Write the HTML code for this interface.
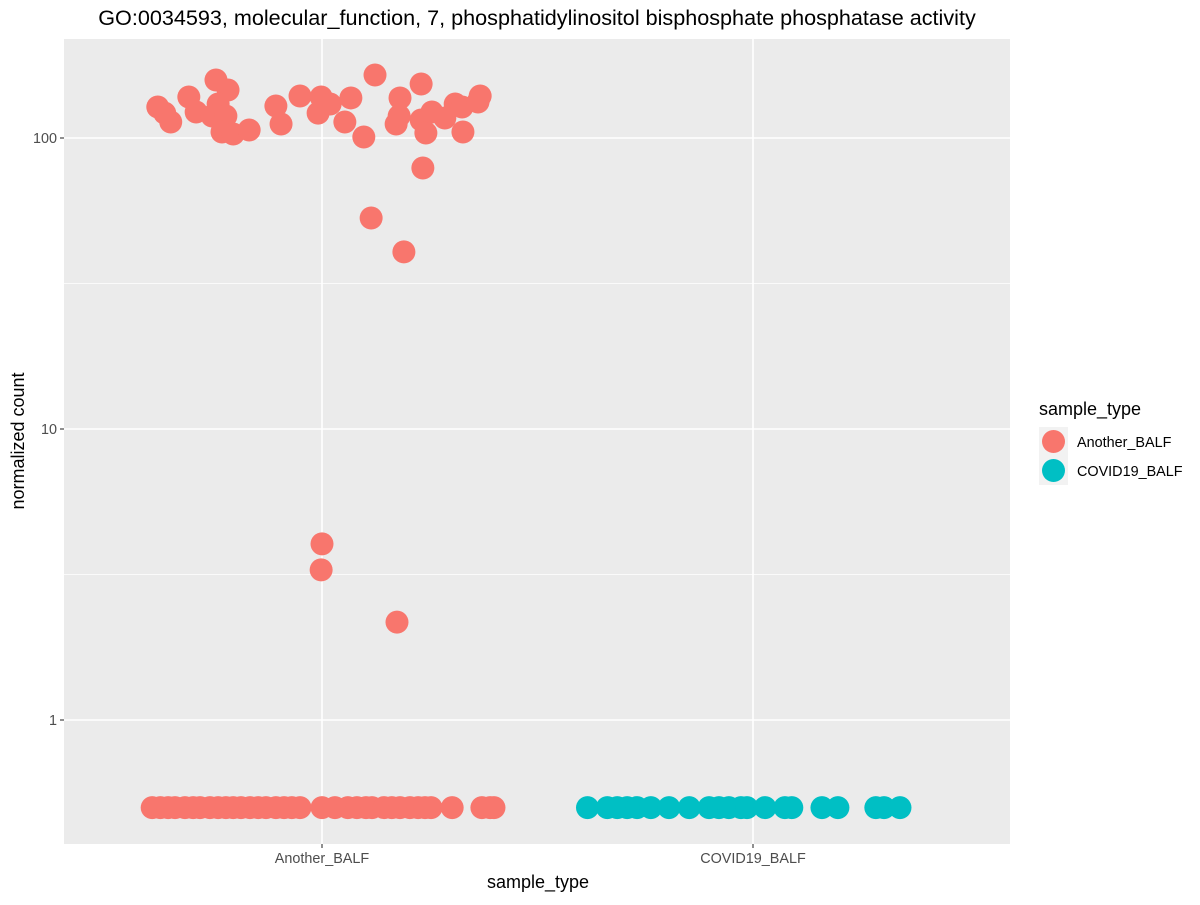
<!DOCTYPE html>
<html><head><meta charset="utf-8"><style>
body{margin:0;background:#fff}
svg text{font-family:"Liberation Sans",sans-serif}
</style></head><body>
<svg id="chart" width="1200" height="900" xmlns="http://www.w3.org/2000/svg">
<rect x="0" y="0" width="1200" height="900" fill="#fff"/>
<text x="537" y="25" font-size="21.6" text-anchor="middle" fill="#000">GO:0034593, molecular_function, 7, phosphatidylinositol bisphosphate phosphatase activity</text>
<rect x="64" y="39" width="946" height="805" fill="#ebebeb"/>
<g id="grid"></g>
<g id="points"></g>
<g id="axes"></g>
<text x="538" y="888" font-size="18" text-anchor="middle" fill="#000">sample_type</text>
<text transform="translate(24,441) rotate(-90)" font-size="18" text-anchor="middle" fill="#000">normalized count</text>
<g>
<text x="1039" y="415" font-size="18" fill="#000">sample_type</text>
<rect x="1039" y="427" width="29" height="29" fill="#f2f2f2"/>
<circle cx="1053.5" cy="441.5" r="11.5" fill="#F8766D"/>
<text x="1077" y="447" font-size="14.4" fill="#000">Another_BALF</text>
<rect x="1039" y="456" width="29" height="29" fill="#f2f2f2"/>
<circle cx="1053.5" cy="470.5" r="11.5" fill="#00BFC4"/>
<text x="1077" y="476" font-size="14.4" fill="#000">COVID19_BALF</text>
</g>
</svg>
<script>
const categories = ["Another_BALF","COVID19_BALF"];
const yTicks = [1,10,100];
const yTickLabels = ["1","10","100"];
const colors = ["#F8766D","#00BFC4"];
const highJitter = [-0.381,-0.365,-0.351,-0.309,-0.292,-0.246,-0.218,-0.241,-0.255,-0.223,-0.232,-0.206,-0.169,-0.107,-0.095,-0.051,-0.009,-0.002,0.019,0.053,0.067,0.097,0.123,0.114,0.190,0.172,0.179,0.181,0.230,0.234,0.230,0.241,0.255,0.285,0.309,0.325,0.327,0.362,0.367,0.000,-0.002,0.174];
const highValues = [127.8,121.8,113.5,138.3,122.8,158.2,146.2,130.9,119,119,104.9,103.2,106.5,128.8,111.7,139.4,121.8,138.3,130.9,113.5,137.3,100.8,164.6,53.1,40.6,111.7,119,137.3,153.3,78.9,115.3,104,122.8,117.1,130.9,127.8,104.9,133,139.4,4.03,3.28,2.17];
const lowValue = 0.5;
const lowJitterA = [-0.394,-0.375,-0.357,-0.341,-0.318,-0.299,-0.283,-0.260,-0.241,-0.223,-0.206,-0.188,-0.167,-0.148,-0.130,-0.107,-0.088,-0.070,-0.051,0.000,0.030,0.060,0.081,0.102,0.116,0.144,0.162,0.181,0.204,0.223,0.239,0.253,0.302,0.371,0.390,0.399];
const lowJitterC = [-0.384,-0.338,-0.315,-0.292,-0.269,-0.237,-0.195,-0.148,-0.102,-0.079,-0.056,-0.028,-0.014,0.028,0.074,0.090,0.160,0.197,0.285,0.304,0.341];

const svgNS="http://www.w3.org/2000/svg";
const px0=64, px1=1010, py0=39, py1=844;
function xScale(c){return 322 + c*431;}
function yScale(v){return 720 - Math.log10(v)*291;}
function mk(tag,attrs,parent){const e=document.createElementNS(svgNS,tag);for(const k in attrs)e.setAttribute(k,attrs[k]);parent.appendChild(e);return e;}
const grid=document.getElementById('grid'), pts=document.getElementById('points'), axes=document.getElementById('axes');
for(let i=0;i<yTicks.length;i++){
  const y=yScale(yTicks[i]*Math.sqrt(10));
  if(y>py0&&y<py1){const l=mk('line',{x1:px0,x2:px1,y1:y,y2:y,stroke:'#fff','stroke-width':0.8},grid);
  
  }
}
for(let i=0;i<yTicks.length;i++){
  const y=yScale(yTicks[i]);
  const l=mk('line',{x1:px0,x2:px1,y1:y,y2:y,stroke:'#fff','stroke-width':1.6},grid);
  
  
  const t=mk('line',{x1:px0-4,x2:px0,y1:y,y2:y,stroke:'#333','stroke-width':1.1},axes);
  
  
  const tx=mk('text',{x:px0-7,y:y+5,'font-size':14.4,'text-anchor':'end',fill:'#4d4d4d'},axes);
  tx.textContent=yTickLabels[i];
  
  
}
for(let i=0;i<categories.length;i++){
  const x=xScale(i);
  const l=mk('line',{x1:x,x2:x,y1:py0,y2:py1,stroke:'#fff','stroke-width':1.6},grid);
  
  
  const t=mk('line',{x1:x,x2:x,y1:py1,y2:py1+4,stroke:'#333','stroke-width':1.1},axes);
  
  
  const tx=mk('text',{x:x,y:py1+19,'font-size':14.4,'text-anchor':'middle',fill:'#4d4d4d'},axes);
  tx.textContent=categories[i];
  
  
}
function dot(c,j,v,name){
  const e=mk('circle',{cx:xScale(c+j),cy:yScale(v),r:11.5,fill:colors[c]},pts);
  
  
}
lowJitterA.forEach(j=>dot(0,j,lowValue,'point-another-balf'));
highJitter.forEach((j,i)=>dot(0,j,highValues[i],'point-another-balf'));
lowJitterC.forEach(j=>dot(1,j,lowValue,'point-covid19-balf'));
</script>
</body></html>
